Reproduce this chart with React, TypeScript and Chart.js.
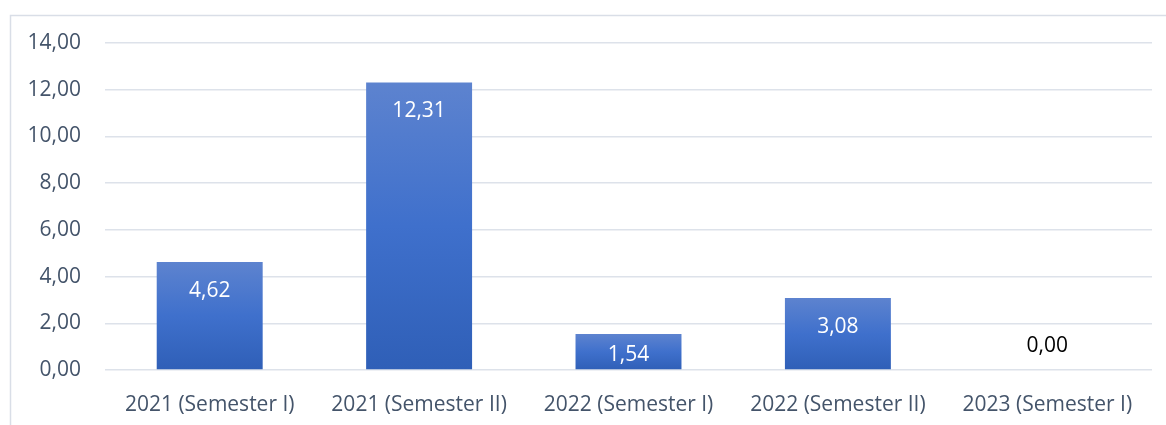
import React, { useEffect, useRef } from "react";
import { Chart, registerables } from "chart.js";

Chart.register(...registerables);

const categories = [
  "2021 (Semester I)",
  "2021 (Semester II)",
  "2022 (Semester I)",
  "2022 (Semester II)",
  "2023 (Semester I)",
];
const values = [4.62, 12.31, 1.54, 3.08, 0.0];
const yMin = 0;
const yMax = 14;
const yStep = 2;

const FONT = "'Open Sans', 'Noto Sans', sans-serif";
const fmt = (v: number) => v.toFixed(2).replace(".", ",");

const framePlugin = {
  id: "frame",
  beforeDraw(chart: any) {
    const ctx = chart.ctx;
    ctx.save();
    ctx.strokeStyle = "#d9dee7";
    ctx.lineWidth = 1.5;
    ctx.beginPath();
    ctx.moveTo(10.5, chart.height);
    ctx.lineTo(10.5, 15.5);
    ctx.lineTo(chart.width, 15.5);
    ctx.stroke();
    ctx.restore();
  },
};

const labelPlugin = {
  id: "valueLabels",
  afterDatasetsDraw(chart: any) {
    const ctx = chart.ctx;
    const meta = chart.getDatasetMeta(0);
    ctx.save();
    ctx.font = `21px ${FONT}`;
    ctx.textAlign = "center";
    ctx.textBaseline = "middle";
    meta.data.forEach((bar: any, i: number) => {
      const v = values[i];
      const base = bar.base;
      let y: number;
      if (v > 0) {
        y = Math.min(bar.y + 29, base - 14);
        ctx.fillStyle = "#ffffff";
      } else {
        y = base - 24;
        ctx.fillStyle = "#000000";
      }
      ctx.fillText(fmt(v), bar.x, y);
    });
    ctx.restore();
  },
};

export default function App() {
  const ref = useRef<HTMLCanvasElement | null>(null);
  useEffect(() => {
    document.body.style.margin = "0";
    const canvas = ref.current!;
    const chart = new Chart(canvas, {
      type: "bar",
      data: {
        labels: categories,
        datasets: [
          {
            data: values,
            backgroundColor: (c: any) => {
              const ch = c.chart;
              const ys = ch.scales?.y;
              if (!ys || c.dataIndex === undefined) return "#3e6cc4";
              const top = ys.getPixelForValue(values[c.dataIndex]);
              const base = ys.getPixelForValue(0);
              if (!isFinite(top) || !isFinite(base) || base - top < 1) return "#3e6cc4";
              const g = ch.ctx.createLinearGradient(0, top, 0, base);
              g.addColorStop(0, "#5d83cf");
              g.addColorStop(0.5, "#3f70cc");
              g.addColorStop(1, "#2f5fb7");
              return g;
            },
            borderWidth: 0,
            barPercentage: 0.506,
            categoryPercentage: 1,
          },
        ],
      },
      options: {
        responsive: false,
        animation: false,
        maintainAspectRatio: false,
        layout: { padding: { top: 43, right: 14, left: 0, bottom: 0 } },
        plugins: { legend: { display: false }, tooltip: { enabled: false } },
        scales: {
          x: {
            grid: { display: false, drawTicks: false },
            border: { display: false },
            ticks: {
              color: "#44546a",
              font: { family: FONT, size: 21 },
              padding: 22,
              maxRotation: 0,
              autoSkip: false,
            },
            afterFit: (s: any) => {
              s.height = 55;
            },
          },
          y: {
            min: yMin,
            max: yMax,
            grid: { color: "#dde2ea", lineWidth: 1.5, drawTicks: false },
            border: { display: false },
            ticks: {
              stepSize: yStep,
              color: "#44546a",
              font: { family: FONT, size: 21 },
              padding: 24,
              callback: (v: any) => fmt(Number(v)),
            },
            afterFit: (s: any) => {
              s.width = 105;
            },
          },
        },
      },
      plugins: [framePlugin, labelPlugin],
    });
    return () => chart.destroy();
  }, []);
  return (
    <div style={{ width: 1166, height: 425 }}>
      <canvas ref={ref} width={1166} height={425} style={{ display: "block" }} />
    </div>
  );
}
